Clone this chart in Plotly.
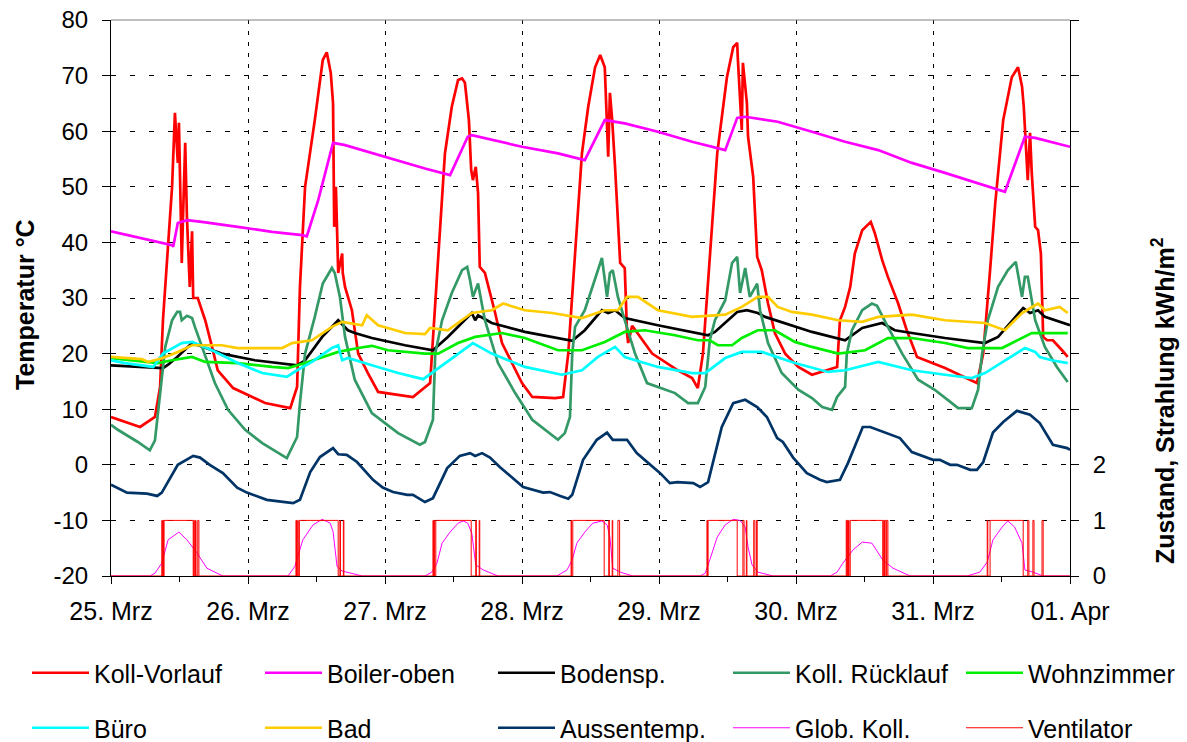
import pandas as pd
import plotly.graph_objects as go

# Time base: hours since 25 March 00:00
BASE = pd.Timestamp("2008-03-25")

day_ticks = [0, 24, 48, 72, 96, 120, 144, 168]
day_labels = ["25. Mrz", "26. Mrz", "27. Mrz", "28. Mrz", "29. Mrz", "30. Mrz", "31. Mrz", "01. Apr"]
temp_ticks = [-20, -10, 0, 10, 20, 30, 40, 50, 60, 70, 80]
temp_labels = ["-20", "-10", "0", "10", "20", "30", "40", "50", "60", "70", "80"]
state_ticks = [0, 1, 2, 3, 4, 5, 6, 7, 8, 9, 10]
state_labels = ["0", "1", "2", "", "", "", "", "", "", "", ""]

# Koll-Vorlauf (collector flow)
vorlauf_t = [0, 5.1, 7.7, 8.6, 9.1, 9.8, 10.7, 11.2, 11.7, 11.9, 12.4, 12.6, 13.0, 13.3, 13.8, 14.2, 14.4,
             15.2, 16.5, 17.7, 18.7, 21.4, 27.0, 31.4, 32.6, 33.1, 34.0, 35.7, 37.1, 37.8, 38.5, 38.9, 39.1,
             39.4, 39.6, 39.8, 40.5, 40.6, 41.0, 42.2, 43.3, 45.0, 46.8, 52.9, 55.9, 57.3, 58.5, 59.7, 60.8,
             61.5, 62.0, 62.7, 63.1, 63.4, 63.9, 64.3, 64.6, 65.5, 67.3, 68.5, 70.8, 72.0, 73.8, 77.8, 79.2,
             80.1, 81.3, 82.5, 83.6, 84.8, 85.7, 86.5, 86.9, 87.1, 87.4, 87.8, 88.3, 89.2, 90.0, 90.4, 90.6,
             91.3, 94.8, 99.3, 101.8, 102.8, 103.7, 104.9, 106.2, 107.9, 109.0, 109.7, 109.8, 110.5, 110.7,
             111.4, 111.6, 112.5, 113.2, 114.0, 115.1, 116.3, 118.1, 120.4, 122.8, 127.2, 127.7, 128.6, 129.5,
             130.3, 131.6, 133.1, 133.8, 135.1, 136.1, 137.9, 139.4, 141.2, 146.1, 151.7, 152.8, 154.0, 154.9,
             156.3, 157.8, 158.9, 159.6, 159.9, 160.5, 160.6, 161.0, 161.3, 161.9, 162.4, 162.9, 163.3, 164.0,
             165.0, 166.6, 167.6]
vorlauf_v = [8.6, 6.8, 8.6, 14, 26, 36.8, 50, 63.3, 54.3, 61.5, 36.3, 44, 57.9, 44.6, 32, 42, 30,
             30, 26, 21.2, 17, 13.8, 11.1, 10.2, 14, 32, 50, 62, 72.8, 74.2, 70.5, 65, 42.8,
             50, 38.6, 34.5, 38, 34.5, 32, 27.8, 20, 16.5, 13.1, 12.2, 14.7, 38, 56, 64.4, 69.2,
             69.5, 68.7, 62, 53, 51.2, 53.6, 48.9, 35.6, 34.5, 27.3, 21.9, 17, 14.7, 12.2, 12, 12.2,
             20, 38, 56, 64.4, 71.5, 73.7, 71.5, 60.8, 55.4, 66.9, 62, 53.6, 36.3, 35.4, 23.7, 21.9,
             25, 20, 17, 15.6, 13.8, 20, 38, 56, 69.7, 75.1, 75.9, 73.3, 60.2, 72.3,
             65, 59, 51.8, 37.4, 35, 29, 23.7, 20, 17.6, 16.2, 17.6, 26, 28.4, 32,
             38, 42.2, 43.7, 41.7, 36.8, 33.8, 29, 24.2, 19.4, 17.4, 14.7, 20, 35, 47,
             62, 69.7, 71.5, 68, 64.4, 52.5, 51.2, 59.7, 52.5, 42.8, 42.2, 38, 23, 22.4,
             22.4, 20.6, 19.4]

# Boiler-oben (storage tank top)
boiler_t = [0, 10.7, 10.9, 11.7, 13.3, 15.9, 22.2, 28.2, 33.5, 34.3, 36.3, 38.9, 41.0, 45.0, 49.8, 55.0,
            59.4, 62.5, 63.2, 72.0, 78.3, 83.0, 86.5, 90.0, 95.8, 101.8, 107.6, 109.7, 111.1, 116.8, 122.8,
            128.6, 134.4, 140.3, 146.1, 151.9, 156.6, 160.1, 161.9, 168]
boiler_v = [42, 39.5, 39.2, 43.5, 44, 43.7, 42.8, 41.9, 41.3, 41.1, 47.6, 57.9, 57.5, 56.3, 54.8, 53.3,
            52.1, 59, 59.3, 57.2, 56, 54.8, 62, 61.4, 59.9, 58.1, 56.6, 62.4, 62.6, 61.7, 59.9,
            58.1, 56.6, 54.3, 52.5, 50.7, 49.1, 59, 58.8, 57.2]

# Bodensp. (floor storage)
boden_t = [0, 9.1, 10.0, 11.6, 14.2, 16.5, 19.4, 25.2, 32.6, 34.0, 37.0, 39.8, 41.5, 42.7, 45.7, 51.5, 56.4,
           59.0, 63.2, 63.8, 64.3, 66.7, 72.5, 80.8, 83.0, 86.0, 87.1, 88.3, 90.0, 95.8, 104.6, 105.8,
           109.7, 111.4, 113.3, 114.6, 122.8, 128.6, 131.6, 135.1, 137.3, 140.3, 146.1, 153.1, 155.4,
           159.8, 161.0, 162.4, 163.6, 168]
boden_v = [17.9, 17.4, 18, 19.4, 21.9, 21, 20, 18.8, 17.9, 18.8, 23, 26, 24.2, 23.7, 22.8, 21.5, 20.6,
           23, 27.3, 26, 26.9, 25.5, 23.9, 22.3, 24.2, 27.8, 27.3, 27.8, 26.4, 25.1, 23.3, 23.9,
           27.5, 27.8, 27.3, 26.6, 23.9, 22.4, 24.6, 25.5, 24.2, 23.7, 22.8, 21.9, 23,
           28.2, 27.3, 27.8, 26.6, 25.1]

# Koll. Rücklauf (collector return)
ruecklauf_t = [0, 1.2, 4.7, 6.8, 7.7, 8.6, 9.5, 10.7, 11.6, 12.1, 12.4, 13.3, 14.2, 14.7, 15.2, 16.5, 18.2,
               20.5, 23.5, 26.5, 29.3, 30.8, 32.6, 33.1, 34.0, 35.7, 37.1, 38.7, 39.2, 40.1, 41.0, 42.7,
               45.7, 50.3, 54.1, 55.0, 56.4, 56.8, 58.0, 59.7, 61.5, 62.4, 62.9, 63.4, 64.3, 64.6, 65.5,
               67.8, 70.8, 73.8, 76.6, 78.3, 79.5, 80.4, 80.8, 81.3, 83.0, 84.8, 86.0, 86.9, 87.4, 87.9,
               88.8, 90.0, 91.8, 93.9, 95.8, 98.8, 101.1, 102.8, 104.1, 104.9, 105.8, 107.6, 108.8, 109.7,
               110.2, 111.1, 111.9, 113.2, 113.7, 115.1, 117.5, 120.4, 122.8, 124.6, 126.3, 127.2, 128.6,
               128.9, 129.8, 131.6, 133.3, 134.2, 136.1, 138.6, 141.4, 144.3, 147.3, 148.4, 150.8, 151.9,
               152.6, 153.6, 155.4, 157.1, 158.5, 159.6, 160.1, 160.6, 161.9, 163.6, 165.7, 167.6]
ruecklauf_v = [7.2, 6.3, 4.1, 2.6, 4.4, 13.4, 21.2, 26, 27.5, 27.5, 26, 26.8, 26.4, 24.8, 23.3, 19.4, 14.7,
               9.9, 6.3, 3.9, 2.1, 1.2, 5, 11.1, 20, 26.6, 32.6, 35.4, 34.5, 30.2, 23, 15.3,
               9.3, 5.7, 3.6, 4.1, 8.1, 20, 26, 30.9, 35, 35.6, 33.2, 30.2, 32.6, 30.9, 26,
               18.3, 12.9, 8.1, 5.9, 4.5, 5.7, 8.6, 20, 24.8, 27.8, 33.2, 37.2, 30.2, 34.5, 35,
               30.2, 26, 20, 14.7, 14, 12.9, 11.1, 11.1, 14, 22.4, 26, 29.6, 36.3, 37.4,
               30.9, 35.4, 30.2, 32.6, 27.8, 21.9, 16.5, 13.5, 12, 10.4, 9.9, 12.2, 14,
               20, 24.2, 27.8, 29, 28.6, 24.8, 20, 15.3, 13.5, 11.1, 10.2, 10.2, 13.5,
               20, 26, 32, 35, 36.5, 30.2, 33.8, 33.8, 26, 21.2, 17.6, 14.9]

# Wohnzimmer (living room)
wohn_t = [0, 6.5, 8.2, 10.7, 13.0, 14.2, 16.5, 22.2, 28.2, 31.0, 34.0, 37.0, 39.8, 43.3, 45.7, 48.5, 55.0,
          57.3, 60.8, 63.8, 68.5, 72.5, 78.3, 82.5, 86.5, 90.0, 93.5, 98.8, 102.8, 104.9, 106.3, 108.8,
          110.5, 113.3, 116.3, 119.8, 122.8, 127.4, 132.1, 136.1, 140.3, 146.1, 150.1, 156.1, 161.3, 167.6]
wohn_v = [19.2, 18.5, 18.3, 18.8, 19.2, 19.4, 18.5, 18.3, 17.6, 17.4, 18.3, 19.4, 20.3, 21, 21.4, 20.6, 20,
          20, 21.9, 23, 23.7, 22.8, 20.6, 20.6, 22.1, 23.9, 24.2, 23.3, 22.4, 22.4, 21.5, 21.5,
          22.8, 24.2, 24.2, 22.1, 21.2, 20, 20.6, 22.8, 22.8, 21.9, 21, 21, 23.7, 23.7]

# Büro (office)
buero_t = [0, 2.5, 7.4, 9.1, 12.4, 14.2, 17.7, 22.2, 26.5, 30.8, 32.6, 35.2, 38.7, 39.8, 40.5, 41.5, 45.7,
           50.3, 54.7, 58.0, 60.8, 63.4, 66.7, 72.5, 79.0, 82.5, 85.3, 88.3, 90.0, 95.8, 101.8, 104.1,
           107.6, 110.5, 114.0, 119.8, 125.6, 128.6, 134.4, 140.3, 146.1, 150.8, 153.1, 156.6, 160.1,
           161.9, 162.7, 164.8, 167.6]
buero_v = [18.8, 18.3, 17.6, 20, 21.9, 22.1, 20.6, 18.3, 16.5, 15.8, 17, 18.5, 21, 21.5, 18.8, 19.2, 17.9,
           16.5, 15.4, 17.9, 20, 21.9, 20, 17.6, 16.2, 17, 19.4, 21.2, 19.4, 17.6, 16.5, 16.5,
           19.2, 20.3, 20.3, 18.3, 16.7, 17, 18.5, 17, 16.2, 15.6, 16.5, 18.8, 21,
           20.3, 19.4, 18.8, 18.3]

# Bad (bathroom)
bad_t = [0, 5.4, 6.5, 9.1, 11.7, 14.2, 19.4, 22.2, 30.0, 31.7, 35.2, 38.7, 40.5, 44.0, 44.8, 46.8, 51.5,
         55.0, 55.9, 59.0, 63.2, 66.7, 68.7, 72.5, 77.3, 82.5, 86.5, 88.8, 90.4, 92.3, 95.8, 101.8, 107.6,
         110.5, 113.3, 115.1, 116.8, 119.3, 122.8, 127.4, 131.6, 134.4, 140.3, 146.1, 153.1, 156.6,
         159.6, 162.4, 163.6, 166.2, 167.6]
bad_v = [19.4, 19, 18.5, 19.2, 20.3, 21.5, 21.5, 21, 21, 21.9, 22.4, 24.8, 25.7, 25.1, 26.9, 25.1, 23.7,
         23.5, 24.6, 24.2, 27.3, 27.8, 29, 27.8, 27.3, 26.4, 27.8, 27.8, 30.2, 30.2, 27.8, 26.6, 27,
         28.4, 30.2, 30.2, 28.4, 27.5, 27, 26, 25.7, 26.6, 27, 26, 25.5, 24.2,
         27.3, 29, 27.8, 28.4, 27.3]

# Aussentemp. (outdoor temperature)
aussen_t = [0, 2.8, 6.3, 8.1, 8.9, 11.7, 14.4, 15.6, 17.3, 19.6, 22.1, 23.8, 27.3, 29.1, 31.9, 33.1, 34.9,
            36.6, 38.9, 39.8, 41.3, 43.1, 45.9, 47.6, 49.4, 51.9, 52.9, 55.0, 56.4, 58.9, 61.1, 62.9, 63.8,
            65.0, 66.4, 68.1, 72.2, 75.7, 76.9, 78.7, 80.1, 80.8, 82.7, 85.1, 86.9, 87.9, 90.4, 92.1, 93.9,
            96.2, 97.9, 99.2, 102.0, 103.2, 104.6, 107.0, 109.0, 111.1, 113.2, 114.9, 116.7, 117.7, 119.5,
            121.9, 124.2, 125.4, 127.7, 129.1, 131.7, 133.0, 138.2, 140.3, 144.0, 145.2, 147.0, 148.2,
            150.5, 151.7, 152.8, 154.5, 156.3, 158.7, 161.0, 162.7, 165.0, 167.5, 168]
aussen_v = [-3.6, -5, -5.2, -5.6, -5, 0, 1.6, 1.3, 0, -1.5, -4.1, -5, -6.3, -6.5, -6.9, -6.3, -1.3,
            1.4, 3, 1.9, 1.8, 0.5, -2.7, -4.1, -4.9, -5.4, -5.4, -6.7, -6, -0.6, 1.6, 2.1, 1.6,
            2.1, 1.3, -0.4, -4, -5, -4.9, -5.6, -6.1, -5.4, 0.9, 4.5, 5.8, 4.5, 4.5, 2.1, 0.5,
            -1.5, -3.3, -3.1, -3.3, -4, -3.1, 6.8, 11.1, 11.7, 10.4, 8.6, 4.8, 4.1, 1.3,
            -1.5, -2.7, -3.1, -2.7, 0.3, 6.8, 6.8, 4.8, 2.3, 0.9, 0.9, 0, 0,
            -0.9, -0.9, 0.5, 5.8, 7.7, 9.7, 9, 7.5, 3.6, 3, 2.7]

# Glob. Koll. (global irradiation on collector, right axis)
glob_t = [0, 6.8, 7.7, 8.9, 10.0, 11.9, 13.3, 15.1, 16.8, 19.6,
          31.0, 32.2, 33.6, 35.4, 37.0, 38.4, 38.9, 39.6, 40.5, 42.2, 44.0,
          55.0, 56.2, 57.1, 58.0, 59.4, 60.8, 61.7, 62.5, 63.2, 63.9, 65.2, 67.8,
          78.1, 79.9, 80.8, 81.6, 83.0, 84.4, 86.0, 86.9, 87.4, 87.9, 89.2, 91.4,
          103.2, 104.1, 104.9, 106.2, 107.6, 109.0, 110.2, 111.1, 111.6, 112.3, 113.3, 116.0,
          126.0, 127.2, 128.2, 130.0, 131.6, 133.3, 135.2, 137.0, 140.0,
          150.0, 152.2, 153.5, 154.5, 156.1, 157.1, 158.3, 159.6, 160.1, 161.5, 163.3, 168]
glob_v = [0, 0, 0.05, 0.23, 0.65, 0.79, 0.65, 0.41, 0.14, 0,
          0, 0.17, 0.65, 0.92, 1.02, 0.95, 0.8, 0.17, 0.09, 0.05, 0,
          0, 0.07, 0.23, 0.59, 0.79, 0.95, 0.99, 0.95, 0.77, 0.2, 0.11, 0,
          0, 0.11, 0.29, 0.59, 0.79, 0.95, 0.99, 0.92, 0.7, 0.14, 0.07, 0,
          0, 0.05, 0.29, 0.7, 0.92, 1.02, 1.0, 0.88, 0.52, 0.2, 0.07, 0,
          0, 0.07, 0.23, 0.47, 0.61, 0.59, 0.29, 0.14, 0,
          0, 0.07, 0.25, 0.65, 0.88, 0.99, 0.88, 0.59, 0.11, 0.07, 0, 0]

# Ventilator (fan state, switching times and states, right axis)
vent_t = [0, 8.9, 9.0, 9.1, 9.2, 9.3, 14.4, 14.5, 14.6, 14.8, 14.9, 15.2, 15.4,
          32.4, 32.5, 32.7, 32.8, 33.0, 39.8, 40.1, 40.2, 40.7, 40.8,
          56.4, 56.5, 56.6, 56.7, 56.9, 63.1, 63.9, 64.0, 64.5, 64.6,
          80.6, 80.7, 80.9, 86.4, 87.2, 87.3, 87.8, 87.9, 88.8, 89.1,
          104.4, 104.5, 104.6, 109.7, 110.7, 110.9, 111.3, 111.4, 112.6, 112.8, 113.1, 113.2,
          128.8, 128.9, 129.0, 129.1, 129.2, 129.3, 129.5, 135.2, 135.3, 135.5, 135.6, 135.8, 135.9, 136.1,
          153.5, 153.6, 154.0, 159.8, 160.6, 160.8, 161.5, 161.7, 163.1, 163.3, 168]
vent_s = [0, 1, 0, 1, 0, 1, 0, 1, 0, 1, 0, 1, 0,
          1, 0, 1, 0, 1, 0, 1, 0, 1, 0,
          1, 0, 1, 0, 1, 0, 1, 0, 1, 0,
          1, 0, 1, 0, 1, 0, 1, 0, 1, 0,
          1, 0, 1, 0, 1, 0, 1, 0, 1, 0, 1, 0,
          1, 0, 1, 0, 1, 0, 1, 0, 1, 0, 1, 0, 1, 0,
          1, 0, 1, 0, 1, 0, 1, 0, 1, 0, 0]


def ts(hours):
    return BASE + pd.to_timedelta(hours, unit="h")


FONT = "Liberation Sans, Arial, Helvetica, sans-serif"

fig = go.Figure()

# name, times, values, colour, legend block
temp_series = [
    ("Koll-Vorlauf", vorlauf_t, vorlauf_v, "#ff0000", "legend"),
    ("Boiler-oben", boiler_t, boiler_v, "#ff00ff", "legend"),
    ("Bodensp.", boden_t, boden_v, "#000000", "legend"),
    ("Koll. Rücklauf", ruecklauf_t, ruecklauf_v, "#339966", "legend2"),
    ("Wohnzimmer", wohn_t, wohn_v, "#00ee00", "legend2"),
    ("Büro", buero_t, buero_v, "#00ffff", "legend3"),
    ("Bad", bad_t, bad_v, "#ffcc00", "legend3"),
    ("Aussentemp.", aussen_t, aussen_v, "#003366", "legend3"),
]

for name, t, v, color, leg in temp_series:
    fig.add_trace(go.Scatter(
        x=ts(t), y=v, name=name, mode="lines", legend=leg,
        line=dict(color=color, width=2.7),
    ))

fig.add_trace(go.Scatter(
    x=ts(glob_t), y=glob_v, name="Glob. Koll.", mode="lines", yaxis="y2", legend="legend4",
    line=dict(color="#ff00ff", width=1),
))
fig.add_trace(go.Scatter(
    x=ts(vent_t), y=vent_s, name="Ventilator", mode="lines", yaxis="y2", legend="legend4",
    line=dict(color="#ff0000", width=1, shape="hv"),
))

# Legend blocks below the plot area (paper coordinates)
PLOT_L, PLOT_W, PLOT_B, PLOT_H = 111, 959, 576, 556
legend_common = dict(
    orientation="h", xref="paper", yref="paper", xanchor="left", yanchor="middle",
    font=dict(family=FONT, size=25, color="#000000"),
    entrywidthmode="pixels", entrywidth=161, bgcolor="rgba(0,0,0,0)", itemwidth=57,
    tracegroupgap=0,
)
left_x = (27 - PLOT_L) / PLOT_W
right_x = (728 - PLOT_L) / PLOT_W
row1_y = (PLOT_B - 673) / PLOT_H
row2_y = (PLOT_B - 728) / PLOT_H

fig.update_layout(
    width=1187, height=742,
    margin=dict(l=PLOT_L, r=117, t=20, b=166, autoexpand=False),
    paper_bgcolor="#ffffff", plot_bgcolor="#ffffff",
    font=dict(family=FONT, size=24, color="#000000"),
    showlegend=True,
    legend=dict(x=left_x, y=row1_y, **legend_common),
    legend2=dict(x=right_x, y=row1_y, **legend_common),
    legend3=dict(x=left_x, y=row2_y, **legend_common),
    legend4=dict(x=right_x, y=row2_y, **legend_common),
    xaxis=dict(
        type="date",
        range=[ts(0), ts(168)],
        tickmode="array",
        tickvals=[ts(h) for h in day_ticks],
        ticktext=day_labels,
        ticks="outside", ticklen=7, tickcolor="#000000",
        ticklabelstandoff=6,
        showline=True, linecolor="#000000", linewidth=1,
        showgrid=True, gridcolor="#000000", gridwidth=1, griddash="4px,7px",
        minor=dict(ticks="outside", ticklen=5, tickcolor="#000000",
                   dtick=12 * 3600 * 1000, tick0=ts(0), showgrid=False),
        tickfont=dict(family=FONT, size=25),
        zeroline=False,
    ),
    yaxis=dict(
        range=[-20, 80],
        tickmode="array", tickvals=temp_ticks, ticktext=temp_labels,
        ticks="outside", ticklen=8, tickcolor="#000000",
        ticklabelstandoff=9,
        showline=True, linecolor="#000000", linewidth=1,
        showgrid=True, gridcolor="#000000", gridwidth=1, griddash="5px,14px",
        zeroline=False,
        tickfont=dict(family=FONT, size=24),
    ),
    yaxis2=dict(
        overlaying="y", side="right", range=[0, 10],
        tickmode="array", tickvals=state_ticks, ticktext=state_labels,
        ticks="outside", ticklen=8, tickcolor="#000000",
        ticklabelstandoff=9,
        showline=True, linecolor="#000000", linewidth=1,
        showgrid=False, zeroline=False,
        tickfont=dict(family=FONT, size=24),
    ),
    shapes=[dict(type="line", xref="paper", yref="paper", x0=0, x1=1, y0=1, y1=1,
                 line=dict(color="#808080", width=1))],
    annotations=[
        dict(text="<b>Temperatur °C</b>", textangle=-90, showarrow=False,
             xref="paper", yref="paper", x=(25 - PLOT_L) / PLOT_W, y=(PLOT_B - 305) / PLOT_H,
             xanchor="center", yanchor="middle", font=dict(family=FONT, size=25)),
        dict(text="<b>Zustand, Strahlung kWh/m<sup>2</sup></b>", textangle=-90, showarrow=False,
             xref="paper", yref="paper", x=(1163 - PLOT_L) / PLOT_W, y=(PLOT_B - 401) / PLOT_H,
             xanchor="center", yanchor="middle", font=dict(family=FONT, size=25)),
    ],
)

fig.write_html("out.html")
